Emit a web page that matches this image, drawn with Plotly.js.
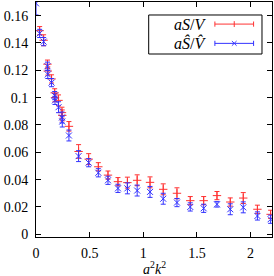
<!DOCTYPE html>
<html>
<head>
<meta charset="utf-8">
<script src="https://cdn.plot.ly/plotly-3.0.1.min.js"></script>
<style>html,body{margin:0;padding:0;background:#fff;}#plot{width:274px;height:276px;}</style>
</head>
<body>
<div id="plot"></div>
<script>
// a^2 k^2 values
const k2 = [0, 0.034, 0.071, 0.107, 0.110, 0.145, 0.174, 0.177, 0.210, 0.242, 0.245, 0.307, 0.397, 0.491, 0.581, 0.671, 0.764, 0.852, 0.943, 1.063, 1.186, 1.314, 1.438, 1.563, 1.687, 1.811, 1.932, 2.064, 2.187];
// aS/V
const sv = [0.178, 0.149, 0.142, 0.1245, 0.1195, 0.1137, 0.1035, 0.100, 0.098, 0.089, 0.087, 0.079, 0.0606, 0.055, 0.0494, 0.0433, 0.0385, 0.0378, 0.0395, 0.038, 0.0329, 0.030, 0.0246, 0.0246, 0.0283, 0.0236, 0.0265, 0.0183, 0.0146];
const svErr = [0.006, 0.003, 0.004, 0.003, 0.003, 0.003, 0.003, 0.003, 0.004, 0.004, 0.004, 0.0035, 0.005, 0.004, 0.003, 0.003, 0.003, 0.004, 0.004, 0.004, 0.004, 0.004, 0.003, 0.003, 0.003, 0.003, 0.004, 0.003, 0.003];
// aS^/V^
const svHat = [0.169, 0.147, 0.141, 0.123, 0.117, 0.111, 0.1015, 0.098, 0.093, 0.0855, 0.0825, 0.0723, 0.0572, 0.0524, 0.045, 0.0395, 0.0336, 0.0336, 0.032, 0.031, 0.026, 0.0232, 0.020, 0.019, 0.0219, 0.0183, 0.0197, 0.0134, 0.011];
const svHatErr = [0.0085, 0.003, 0.003, 0.003, 0.003, 0.003, 0.003, 0.003, 0.004, 0.004, 0.004, 0.004, 0.004, 0.003, 0.003, 0.003, 0.003, 0.004, 0.004, 0.004, 0.004, 0.003, 0.003, 0.003, 0.002, 0.004, 0.004, 0.003, 0.003];

const xTicks = [0, 0.5, 1, 1.5, 2];
const xTickText = ['0', '0.5', '1', '1.5', '2'];
const yTicks = [0, 0.02, 0.04, 0.06, 0.08, 0.1, 0.12, 0.14, 0.16];
const yTickText = ['0', '0.02', '0.04', '0.06', '0.08', '0.1', '0.12', '0.14', '0.16'];

const RED = 'rgb(255,50,50)';
const BLUE = 'rgb(50,50,255)';
const FONT = 'Liberation Serif, DejaVu Serif, serif';

const traces = [
  {
    x: k2, y: sv, type: 'scatter', mode: 'markers', name: 'aS/V',
    marker: {symbol: 'cross-thin', size: 6, color: RED, line: {color: RED, width: 1}},
    error_y: {type: 'data', array: svErr, visible: true, color: RED, thickness: 1, width: 2.5},
    showlegend: false
  },
  {
    x: k2, y: svHat, type: 'scatter', mode: 'markers', name: 'aŜ/V̂',
    marker: {symbol: 'x-thin', size: 6, color: BLUE, line: {color: BLUE, width: 1}},
    error_y: {type: 'data', array: svHatErr, visible: true, color: BLUE, thickness: 1, width: 2.5},
    showlegend: false
  }
];

// legend geometry (paper coords)
const lx0 = 0.758, lx1 = 0.922, lxm = 0.840;
const ly1 = 0.906, ly2 = 0.824;
const cap = 0.011, mx = 0.0125, my = 0.0125;
const shapes = [
  {type: 'rect', xref: 'paper', yref: 'paper', x0: 0.4775, x1: 0.9576, y0: 0.7787, y1: 0.9447, line: {color: 'black', width: 1}},
  {type: 'line', xref: 'paper', yref: 'paper', x0: lx0, x1: lx1, y0: ly1, y1: ly1, line: {color: RED, width: 1}},
  {type: 'line', xref: 'paper', yref: 'paper', x0: lx0, x1: lx0, y0: ly1 - cap, y1: ly1 + cap, line: {color: RED, width: 1}},
  {type: 'line', xref: 'paper', yref: 'paper', x0: lx1, x1: lx1, y0: ly1 - cap, y1: ly1 + cap, line: {color: RED, width: 1}},
  {type: 'line', xref: 'paper', yref: 'paper', x0: lxm, x1: lxm, y0: ly1 - my, y1: ly1 + my, line: {color: RED, width: 1}},
  {type: 'line', xref: 'paper', yref: 'paper', x0: lx0, x1: lx1, y0: ly2, y1: ly2, line: {color: BLUE, width: 1}},
  {type: 'line', xref: 'paper', yref: 'paper', x0: lx0, x1: lx0, y0: ly2 - cap, y1: ly2 + cap, line: {color: BLUE, width: 1}},
  {type: 'line', xref: 'paper', yref: 'paper', x0: lx1, x1: lx1, y0: ly2 - cap, y1: ly2 + cap, line: {color: BLUE, width: 1}},
  {type: 'line', xref: 'paper', yref: 'paper', x0: lxm - mx * 0.8, x1: lxm + mx * 0.8, y0: ly2 - my * 0.8, y1: ly2 + my * 0.8, line: {color: BLUE, width: 1}},
  {type: 'line', xref: 'paper', yref: 'paper', x0: lxm - mx * 0.8, x1: lxm + mx * 0.8, y0: ly2 + my * 0.8, y1: ly2 - my * 0.8, line: {color: BLUE, width: 1}}
];

const annotations = [
  {xref: 'paper', yref: 'paper', x: 0.728, y: ly1, xanchor: 'right', yanchor: 'middle', showarrow: false,
   text: '<i>aS</i>/<i>V</i>', font: {family: FONT, size: 16, color: 'black'}},
  {xref: 'paper', yref: 'paper', x: 0.728, y: ly2, xanchor: 'right', yanchor: 'middle', showarrow: false,
   text: '<i>aŜ</i>/<i>V̂</i>', font: {family: FONT, size: 16, color: 'black'}},
  {xref: 'paper', yref: 'paper', x: 0.5, y: 0, yshift: -31, xanchor: 'center', yanchor: 'middle', showarrow: false,
   text: '<i>a</i><sup>2</sup><i>k</i><sup>2</sup>', font: {family: FONT, size: 14, color: 'black'}}
];

const axisCommon = {
  showgrid: false, zeroline: false, showline: true, linecolor: 'black', linewidth: 1,
  ticks: 'inside', ticklen: 5, tickcolor: 'black', tickwidth: 1, mirror: 'ticks',
  tickfont: {family: FONT, size: 14, color: 'black'}
};

const layout = {
  width: 274, height: 276,
  margin: {l: 36, r: 2, t: 2, b: 39},
  paper_bgcolor: 'white', plot_bgcolor: 'white',
  xaxis: Object.assign({}, axisCommon, {
    range: [0, 2.2], tickmode: 'array', tickvals: xTicks, ticktext: xTickText,
    ticklabelstandoff: 3
  }),
  yaxis: Object.assign({}, axisCommon, {
    range: [-0.002, 0.17], tickmode: 'array', tickvals: yTicks, ticktext: yTickText,
    ticklabelstandoff: 4
  }),
  shapes: shapes,
  annotations: annotations,
  showlegend: false
};

Plotly.newPlot('plot', traces, layout, {staticPlot: true, displayModeBar: false});
</script>
</body>
</html>
